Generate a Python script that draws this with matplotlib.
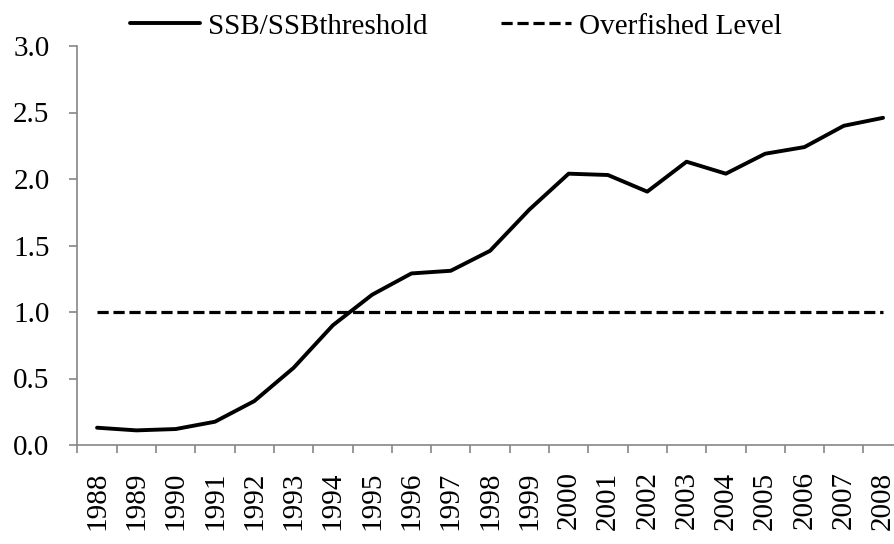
import numpy as np
import matplotlib
matplotlib.use("Agg")
import matplotlib.pyplot as plt

# ---------------- DATA ----------------
years = [str(y) for y in range(1988, 2009)]
ssb_ratio = [0.13, 0.11, 0.12, 0.175, 0.33, 0.58, 0.90, 1.13, 1.29, 1.31, 1.46,
             1.77, 2.04, 2.03, 1.905, 2.13, 2.04, 2.19, 2.24, 2.40, 2.46]
overfished = [1.0] * len(years)
y_ticks = [0.0, 0.5, 1.0, 1.5, 2.0, 2.5, 3.0]

# ---------------- STYLE ----------------
plt.rcParams['font.family'] = ['Liberation Serif', 'DejaVu Serif']
FS = 21
GREY = '#868686'

fig = plt.figure(figsize=(8.94, 5.44), dpi=100)
ax = fig.add_axes([77.4 / 894, 99 / 544, 825.3 / 894, 399 / 544])

x = np.arange(len(years))
l1, = ax.plot(x, ssb_ratio, color='black', lw=2.8, solid_capstyle='round',
              solid_joinstyle='round', label='SSB/SSBthreshold')
l2, = ax.plot(x, overfished, color='black', lw=2.3, dashes=(3.5, 1.5),
              label='Overfished Level')

ax.set_xlim(-0.5, len(years) - 0.5)
ax.set_ylim(0, 3.0)
ax.set_yticks(y_ticks)
ax.set_yticklabels([f"{v:.1f}" for v in y_ticks], fontsize=FS)

# labels at category centres, tick marks between categories
ax.set_xticks(x)
ax.set_xticklabels(years, rotation=90, fontsize=FS)
ax.set_xticks(np.arange(-0.5, len(years)), minor=True)
ax.tick_params(axis='x', which='major', length=0, pad=19)
ax.tick_params(axis='x', which='minor', length=6, width=1.2, color=GREY, direction='out')
ax.tick_params(axis='y', length=6, width=1.2, color=GREY, direction='out', pad=14)

for side in ['top', 'right']:
    ax.spines[side].set_visible(False)
for side in ['left', 'bottom']:
    ax.spines[side].set_color(GREY)
    ax.spines[side].set_linewidth(1.2)

fig.legend(handles=[l1, l2], loc='upper center', bbox_to_anchor=(456 / 894, 1.024),
           ncol=2, frameon=False, fontsize=FS, handlelength=2.4,
           handletextpad=0.27, columnspacing=2.5)

fig.savefig("out.png", dpi=100)
